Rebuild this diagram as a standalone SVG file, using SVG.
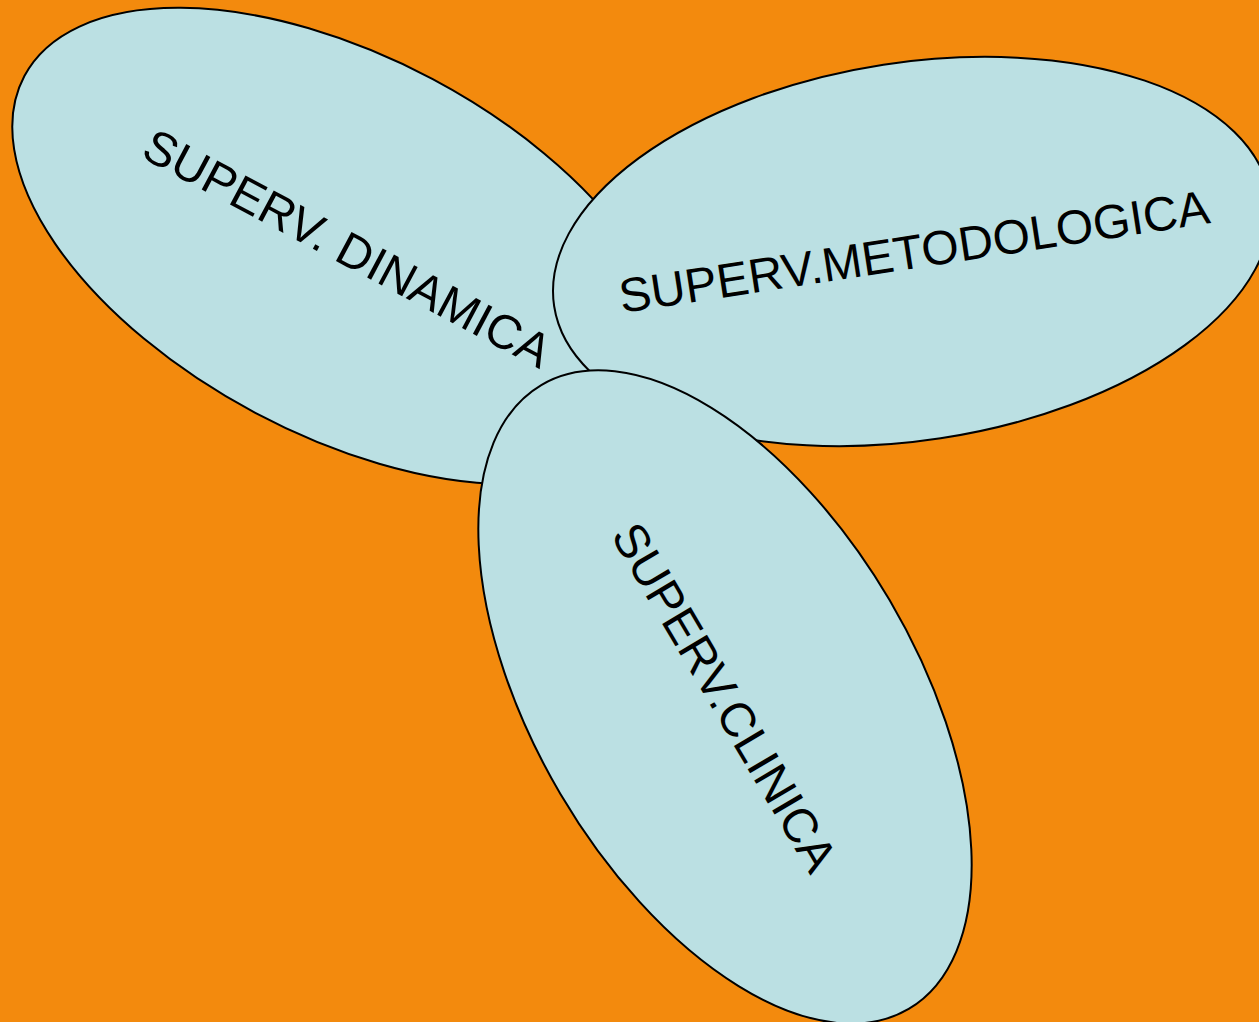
<svg xmlns="http://www.w3.org/2000/svg" width="1259" height="1022" viewBox="0 0 1259 1022">
<style>
.blob{fill:#BBE0E3;stroke:#000;stroke-width:2}
.lbl{font-family:"Liberation Sans",Arial,sans-serif;font-size:48px;fill:#000;text-anchor:middle}
</style>
<rect x="0" y="0" width="1259" height="1022" fill="#F38A0D"/>
<g id="dinamica" transform="translate(344,246) rotate(28)">
<ellipse class="blob" cx="0" cy="0" rx="362" ry="189"/>
<text class="lbl" x="4" y="17">SUPERV. DINAMICA</text>
</g>
<g id="metodologica" transform="translate(912,251.5) rotate(-8.7)">
<ellipse class="blob" cx="0" cy="0" rx="362" ry="189"/>
<text class="lbl" x="2" y="17">SUPERV.METODOLOGICA</text>
</g>
<g id="clinica" transform="translate(725,697) rotate(59.5)">
<ellipse class="blob" cx="0" cy="0" rx="362" ry="191"/>
<text class="lbl" x="0" y="17">SUPERV.CLINICA</text>
</g>
<g id="connectors"/>
</svg>
